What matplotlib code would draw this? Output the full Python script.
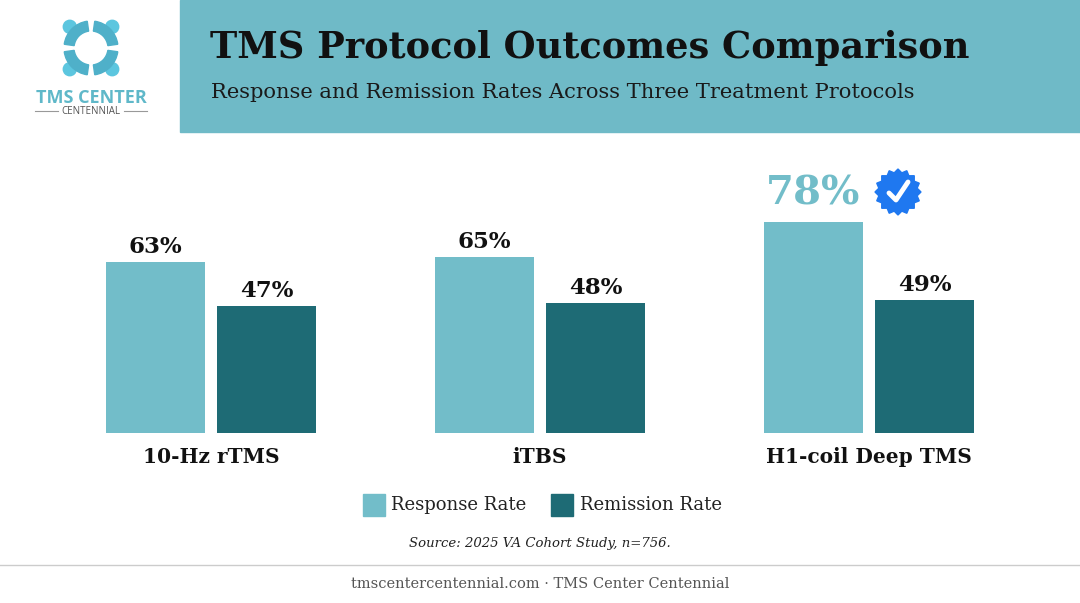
import matplotlib.pyplot as plt
import numpy as np
from matplotlib.patches import Rectangle, Circle, Polygon, Wedge

categories = ['10-Hz rTMS', 'iTBS', 'H1-coil Deep TMS']
response = [63, 65, 78]
remission = [47, 48, 49]

c_resp = '#72bdc9'
c_rem = '#1e6b75'
serif = 'DejaVu Serif'

fig = plt.figure(figsize=(10.8, 6.03), dpi=100)

# decoration layer in pixel coords
bg = fig.add_axes([0, 0, 1, 1])
bg.set_xlim(0, 1080)
bg.set_ylim(603, 0)
bg.axis('off')
bg.add_patch(Rectangle((180, 0), 900, 132, color='#6fbac7'))
bg.text(210, 48, 'TMS Protocol Outcomes Comparison', fontsize=26.5, fontweight='bold',
        family=serif, va='center', color='#111111')
bg.text(211, 92, 'Response and Remission Rates Across Three Treatment Protocols', fontsize=15.1,
        family=serif, va='center', color='#1a1a1a')

# logo (rough)
for ang in range(0, 360, 90):
    a = np.radians(ang + 45)
    cx, cy = 91 + 30 * np.cos(a), 48 + 30 * np.sin(a)
    bg.add_patch(Circle((cx, cy), 6.5, color='#5cc6df'))
    bg.add_patch(Wedge((91, 48), 27, ang + 8, ang + 82, width=10, color='#4fb0c9'))
bg.text(91, 98, 'TMS CENTER', fontsize=13, fontweight='bold', color='#5fb8c9',
        ha='center', va='center', family='Open Sans')
bg.text(91, 111, 'CENTENNIAL', fontsize=7, color='#555555', ha='center', va='center',
        family='Open Sans')
bg.plot([35, 58], [111, 111], color='#999999', lw=0.8)
bg.plot([124, 147], [111, 111], color='#999999', lw=0.8)

# legend
bg.add_patch(Rectangle((363, 494), 22, 22, color=c_resp))
bg.text(391, 505, 'Response Rate', fontsize=13, family=serif, va='center', color='#222222')
bg.add_patch(Rectangle((551, 494), 22, 22, color=c_rem))
bg.text(580, 505, 'Remission Rate', fontsize=13, family=serif, va='center', color='#222222')

bg.text(540, 543, 'Source: 2025 VA Cohort Study, n=756.', fontsize=9.5, style='italic',
        family=serif, ha='center', va='center', color='#222222')
bg.plot([0, 1080], [565, 565], color='#cccccc', lw=1)
bg.text(540, 584, 'tmscentercentennial.com · TMS Center Centennial', fontsize=10.5,
        family=serif, ha='center', va='center', color='#555555')

# badge: scalloped star
t = np.linspace(0, 2 * np.pi, 33)[:-1]
r = np.where(np.arange(32) % 2 == 0, 23, 19.5)
bg.add_patch(Polygon(np.c_[898 + r * np.cos(t), 192 + r * np.sin(t)], color='#1f78f0'))
bg.plot([889, 896, 908], [193, 200, 182], color='white', lw=3.5, solid_capstyle='round', zorder=4)

# chart
ax = fig.add_axes([46.5 / 1080, (603 - 433) / 603, 987 / 1080, 271 / 603])
x = np.arange(len(categories))
w = 0.30
off = 0.169
ax.bar(x - off, response, w, color=c_resp)
ax.bar(x + off, remission, w, color=c_rem)
ax.set_xlim(-0.5, 2.5)
ax.set_ylim(0, 100)
ax.axis('off')
for i in range(len(categories)):
    if i == len(categories) - 1:
        ax.text(x[i] - off, response[i] + 3.5, f'{response[i]}%', fontsize=29, fontweight='bold',
                family=serif, color=c_resp, ha='center', va='bottom')
    else:
        ax.text(x[i] - off, response[i] + 1.5, f'{response[i]}%', fontsize=16.5, fontweight='bold',
                family=serif, color='#111111', ha='center', va='bottom')
    ax.text(x[i] + off, remission[i] + 1.5, f'{remission[i]}%', fontsize=16.5, fontweight='bold',
            family=serif, color='#111111', ha='center', va='bottom')
    ax.text(x[i], -9, categories[i], fontsize=14.5, fontweight='bold', family=serif,
            color='#111111', ha='center', va='center')

fig.savefig('out.png', dpi=100)
